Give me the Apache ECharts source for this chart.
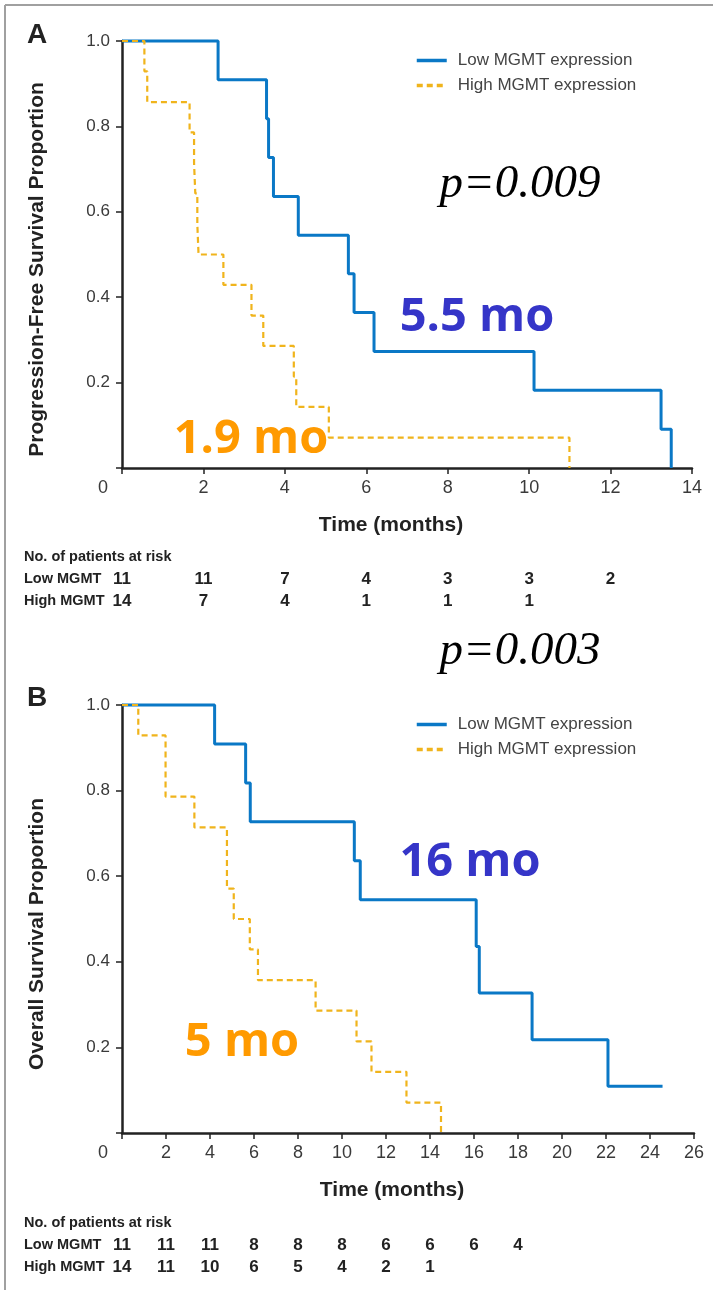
<!DOCTYPE html>
<html>
<head>
<meta charset="utf-8">
<script src="https://cdn.jsdelivr.net/npm/echarts@6.0.0/dist/echarts.min.js"></script>
<style>
  html, body { margin: 0; padding: 0; background: #fff; }
  #chart { width: 713px; height: 1290px; }
</style>
</head>
<body>
<div id="chart"></div>
<script>
// Panel A: progression-free survival (months, proportion)
const pfsLowT  = [0, 2.36, 3.55, 3.6, 3.72, 4.33, 5.56, 5.7, 6.19, 10.12, 13.24, 13.49];
const pfsLowS  = [1, 0.909, 0.818, 0.727, 0.636, 0.545, 0.455, 0.364, 0.273, 0.182, 0.091, 0];
const pfsHighT = [0, 0.55, 0.62, 1.66, 1.77, 1.8, 1.85, 1.88, 2.49, 3.18, 3.47, 4.22, 4.28, 5.08, 10.99];
const pfsHighS = [1, 0.929, 0.857, 0.786, 0.714, 0.643, 0.571, 0.5, 0.429, 0.357, 0.286, 0.214, 0.143, 0.071, 0];

// Panel B: overall survival
const osLowT  = [0, 4.21, 5.62, 5.83, 10.56, 10.83, 16.1, 16.24, 18.64, 22.09, 24.57];
const osLowS  = [1, 0.909, 0.818, 0.727, 0.636, 0.545, 0.436, 0.327, 0.218, 0.109, 0.109];
const osHighT = [0, 0.74, 1.98, 3.29, 4.77, 5.08, 5.81, 6.18, 8.8, 10.66, 11.34, 12.93, 14.5];
const osHighS = [1, 0.929, 0.786, 0.714, 0.571, 0.5, 0.429, 0.357, 0.286, 0.214, 0.143, 0.071, 0];

// patients at risk, one value every 2 months from 0
const riskA_low  = [11, 11, 7, 4, 3, 3, 2];
const riskA_high = [14, 7, 4, 1, 1, 1];
const riskB_low  = [11, 11, 11, 8, 8, 8, 6, 6, 6, 4];
const riskB_high = [14, 11, 10, 6, 5, 4, 2, 1];

const yTicks = [0.2, 0.4, 0.6, 0.8, 1.0];
const seriesNames = ['Low MGMT expression', 'High MGMT expression'];

const SANS = '"Liberation Sans", Arial, sans-serif';
const BLUE = '#0a78c6';
const GOLD = '#f0b41c';

const pairs = (ts, ss) => ts.map((t, i) => [t, ss[i]]);

function xAxisOf(grid, max) {
  return {
    type: 'value', gridIndex: grid, min: 0, max: max, interval: 2,
    name: 'Time (months)', nameLocation: 'middle', nameGap: 47,
    nameTextStyle: { fontFamily: SANS, fontWeight: 'bold', fontSize: 21, color: '#222', padding: [0, 32, 0, 0] },
    axisLine: { lineStyle: { color: '#222', width: 2.5 } },
    axisTick: { length: 6, lineStyle: { color: '#222', width: 1.5 } },
    splitLine: { show: false },
    axisLabel: {
      fontFamily: SANS, fontSize: 18, color: '#3a3a3a', margin: 11,
      formatter: v => v === 0 ? '{z|0}' : String(v),
      rich: { z: { fontFamily: SANS, fontSize: 18, color: '#3a3a3a', padding: [0, 38, 0, 0] } }
    }
  };
}

function yAxisOf(grid, title) {
  return {
    type: 'value', gridIndex: grid, min: 0, max: 1, interval: 0.2,
    name: title, nameLocation: 'middle', nameGap: 74,
    nameTextStyle: { fontFamily: SANS, fontWeight: 'bold', fontSize: 21, color: '#222', padding: [0, 30, 0, 0] },
    axisLine: { lineStyle: { color: '#222', width: 2.5 } },
    axisTick: { length: 6, lineStyle: { color: '#222', width: 1.5 } },
    splitLine: { show: false },
    axisLabel: {
      fontFamily: SANS, fontSize: 17, color: '#3a3a3a', margin: 12,
      formatter: v => yTicks.some(t => Math.abs(t - v) < 1e-6) ? v.toFixed(1) : ''
    }
  };
}

function kmSeries(name, grid, data, dashed) {
  return {
    name: name, type: 'line', step: 'end', xAxisIndex: grid, yAxisIndex: grid,
    data: data, symbol: 'none', clip: false, silent: true,
    lineStyle: dashed
      ? { color: GOLD, width: 2.2, type: [6, 4] }
      : { color: BLUE, width: 3 },
    itemStyle: { color: dashed ? GOLD : BLUE }
  };
}

function legendOf(top) {
  return {
    orient: 'vertical', left: 415, top: top, padding: 0,
    itemWidth: 30, itemHeight: 14, itemGap: 8,
    data: seriesNames,
    itemStyle: { opacity: 0 },
    lineStyle: { width: 3.5 },
    textStyle: { fontFamily: SANS, fontSize: 17, color: '#444', lineHeight: 14, padding: [0, 0, 0, 6] }
  };
}

const chart = echarts.init(document.getElementById('chart'));

const option = {
  backgroundColor: '#fff',
  animation: false,
  grid: [
    { left: 122, width: 570, top: 41, height: 427 },
    { left: 122, width: 572, top: 705, height: 428 }
  ],
  xAxis: [xAxisOf(0, 14), xAxisOf(1, 26)],
  yAxis: [yAxisOf(0, 'Progression-Free Survival Proportion'), yAxisOf(1, 'Overall Survival Proportion')],
  legend: [legendOf(52), legendOf(716)],
  series: [
    kmSeries(seriesNames[0], 0, pairs(pfsLowT, pfsLowS), false),
    kmSeries(seriesNames[1], 0, pairs(pfsHighT, pfsHighS), true),
    kmSeries(seriesNames[0], 1, pairs(osLowT, osLowS), false),
    kmSeries(seriesNames[1], 1, pairs(osHighT, osHighS), true)
  ]
};
chart.setOption(option);

// text overlays
function txt(x, y, text, font, color, align) {
  return {
    type: 'text', x: x, y: y, silent: true,
    style: { text: text, font: font, fill: color, align: align || 'center', verticalAlign: 'middle' }
  };
}

function riskRows(grid, low, high, yHead) {
  const out = [
    txt(24, yHead, 'No. of patients at risk', 'bold 14.5px ' + SANS, '#222', 'left'),
    txt(24, yHead + 22, 'Low MGMT', 'bold 14.5px ' + SANS, '#222', 'left'),
    txt(24, yHead + 44, 'High MGMT', 'bold 14.5px ' + SANS, '#222', 'left')
  ];
  low.forEach((n, i) => {
    const x = chart.convertToPixel({ xAxisIndex: grid }, i * 2);
    out.push(txt(x, yHead + 22, String(n), 'bold 17px ' + SANS, '#222'));
  });
  high.forEach((n, i) => {
    const x = chart.convertToPixel({ xAxisIndex: grid }, i * 2);
    out.push(txt(x, yHead + 44, String(n), 'bold 17px ' + SANS, '#222'));
  });
  return out;
}

const MED = 'bold 47px "Open Sans", "DejaVu Sans", sans-serif';
const PV = 'italic 47px "Liberation Serif", "Times New Roman", serif';

const graphics = [
  { type: 'line', silent: true, shape: { x1: 5, y1: 5, x2: 713, y2: 5 }, style: { stroke: '#a0a0a0', lineWidth: 2 } },
  { type: 'line', silent: true, shape: { x1: 5, y1: 5, x2: 5, y2: 1290 }, style: { stroke: '#a0a0a0', lineWidth: 2 } },
  txt(37, 35, 'A', 'bold 28px ' + SANS, '#222'),
  txt(37, 698, 'B', 'bold 28px ' + SANS, '#222'),
  txt(520, 185, 'p=0.009', PV, '#000'),
  txt(520, 652, 'p=0.003', PV, '#000'),
  txt(477, 318, '5.5 mo', MED, '#3535c8'),
  txt(251, 440, '1.9 mo', MED, '#ff9a00'),
  txt(470, 863, '16 mo', MED, '#3535c8'),
  txt(242, 1043, '5 mo', MED, '#ff9a00')
].concat(riskRows(0, riskA_low, riskA_high, 557))
 .concat(riskRows(1, riskB_low, riskB_high, 1223));

chart.setOption({ graphic: graphics });

window.addEventListener('resize', () => {
  chart.resize();
});
</script>
</body>
</html>
